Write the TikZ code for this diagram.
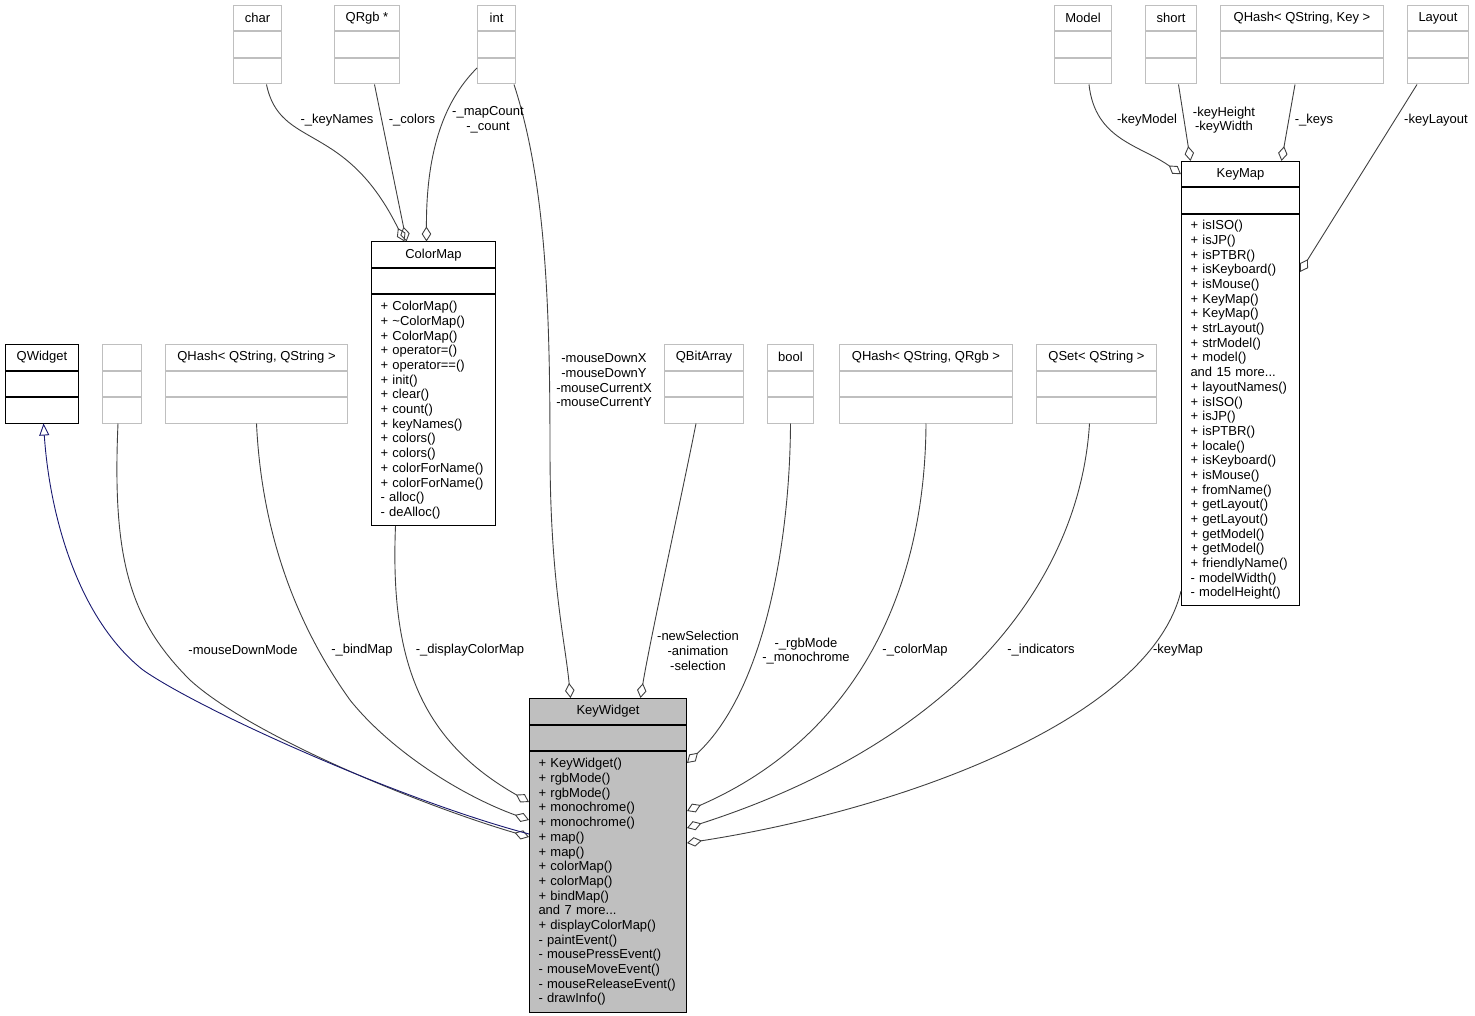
\documentclass[tikz,border=0pt]{standalone}
\usepackage{fontspec}
\setmainfont{Liberation Sans}
\usetikzlibrary{arrows.meta, positioning, calc}
\definecolor{lgray}{HTML}{BFBFBF}
\definecolor{egray}{HTML}{404040}
\definecolor{navy}{HTML}{191970}
\newcommand{\umlfont}{\fontsize{13}{14.68}\selectfont}
% type box: name, style, x, y, width, title
\newcommand{\typebox}[6]{%
  \node[#2, minimum width=#5pt, anchor=north west] (#1) at (#3,#4) {#6};
  \node[#2, minimum width=#5pt, below=0pt of #1] (#1-m) {};
  \node[#2, minimum width=#5pt, below=0pt of #1-m] (#1-b) {};}

\begin{document}
\begin{tikzpicture}[
  x=1pt, y=-1pt, font=\umlfont,
  tbox/.style = {draw=lgray, line width=1pt, minimum height=25.5pt, inner sep=0pt},
  cbox/.style = {tbox, draw=black},
  meth/.style = {draw=black, line width=1pt, align=left,
                 inner xsep=9pt, inner ysep=0pt},
  agg/.style  = {egray, line width=0.9pt,
                 -{Diamond[open, length=15pt, width=9.5pt]}},
  inh/.style  = {navy, line width=0.9pt,
                 {Triangle[open, length=12pt, width=10pt]}-},
  lab/.style  = {align=center, inner sep=0pt}
]
\useasboundingbox (0,0) rectangle (1475,1016);

% top row
\typebox{chr}{tbox}{233}{5}{48}{char}
\typebox{qrgb}{tbox}{334}{5}{65}{QRgb *}
\typebox{int}{tbox}{477}{5}{38}{int}
\typebox{model}{tbox}{1054}{5}{57}{Model}
\typebox{short}{tbox}{1145}{5}{51}{short}
\typebox{qhkey}{tbox}{1220}{5}{163}{QHash< QString, Key >}
\typebox{layout}{tbox}{1407}{5}{61}{Layout}

% middle row
\typebox{qw}{cbox}{5}{344}{73}{QWidget}
\typebox{anon}{tbox}{102}{344}{39}{}
\typebox{qhstr}{tbox}{165}{344}{182}{QHash< QString, QString >}
\typebox{qbits}{tbox}{664}{344}{79}{QBitArray}
\typebox{bool}{tbox}{767}{344}{46}{bool}
\typebox{qhrgb}{tbox}{839}{344}{173}{QHash< QString, QRgb >}
\typebox{qset}{tbox}{1036}{344}{120}{QSet< QString >}

% ColorMap
\node[cbox, minimum width=124pt, anchor=north west] (cmap) at (371,241.5) {ColorMap};
\node[cbox, minimum width=124pt, below=0pt of cmap] (cmap-m) {};
\node[meth, text width=106pt, minimum height=230.5pt, below=0pt of cmap-m] (cmap-b)
  {+ ColorMap()\\+ \textasciitilde ColorMap()\\+ ColorMap()\\+ operator=()\\
   + operator==()\\+ init()\\+ clear()\\+ count()\\+ keyNames()\\+ colors()\\
   + colors()\\+ colorForName()\\+ colorForName()\\- alloc()\\- deAlloc()};

% KeyMap
\node[cbox, minimum width=118pt, anchor=north west] (kmap) at (1181,161) {KeyMap};
\node[cbox, minimum width=118pt, below=0pt of kmap] (kmap-m) {};
\node[meth, text width=100pt, minimum height=391pt, below=0pt of kmap-m] (kmap-b)
  {+ isISO()\\+ isJP()\\+ isPTBR()\\+ isKeyboard()\\+ isMouse()\\+ KeyMap()\\
   + KeyMap()\\+ strLayout()\\+ strModel()\\+ model()\\and 15 more...\\
   + layoutNames()\\+ isISO()\\+ isJP()\\+ isPTBR()\\+ locale()\\+ isKeyboard()\\
   + isMouse()\\+ fromName()\\+ getLayout()\\+ getLayout()\\+ getModel()\\
   + getModel()\\+ friendlyName()\\- modelWidth()\\- modelHeight()};

% KeyWidget
\node[cbox, fill=lgray, minimum width=157pt, anchor=north west] (kw) at (529,698) {KeyWidget};
\node[cbox, fill=lgray, minimum width=157pt, below=0pt of kw] (kw-m) {};
\node[meth, fill=lgray, text width=139pt, minimum height=261pt, below=0pt of kw-m] (kw-b)
  {+ KeyWidget()\\+ rgbMode()\\+ rgbMode()\\+ monochrome()\\+ monochrome()\\
   + map()\\+ map()\\+ colorMap()\\+ colorMap()\\+ bindMap()\\and 7 more...\\
   + displayColorMap()\\- paintEvent()\\- mousePressEvent()\\- mouseMoveEvent()\\
   - mouseReleaseEvent()\\- drawInfo()};

% members of ColorMap
\draw[agg] ($(chr-b.south)+(9,0)$) .. controls (280,150) and (345,120) .. ($(cmap.north)+(-29,0)$);
\draw[agg] ($(qrgb-b.south)+(7.5,0)$) -- ($(cmap.north)+(-27,0)$);
\draw[agg] ($(int-m.south west)+(0,10)$) .. controls (450,95) and (426,140) .. ($(cmap.north)+(-7,0)$);

% members of KeyMap
\draw[agg] ($(model-b.south)+(6,0)$) .. controls (1095,140) and (1140,145) .. (kmap.west);
\draw[agg] ($(short-b.south)+(7.5,0)$) -- ($(kmap.north)+(-50,0)$);
\draw[agg] ($(qhkey-b.south)+(-7,0)$) -- ($(kmap.north)+(41,0)$);
\draw[agg] ($(layout-b.south)+(-21,0)$) -- ($(kmap-b.north east)+(0,58)$);

% members of KeyWidget
\draw[agg] ($(int-b.south east)+(-2,0)$) .. controls (545,180) and (550,300) .. (550,450)
  .. controls (550,580) and (565,640) .. ($(kw.north)+(-37.5,0)$);
\draw[agg] ($(qbits-b.south)+(-8,0)$) .. controls (685,480) and (650,640) .. ($(kw.north)+(32.5,0)$);
\draw[agg] (bool-b.south) .. controls (790,540) and (765,690) .. ($(kw-b.north east)+(0,12)$);
\draw[agg] (qhrgb-b.south) .. controls (925,600) and (850,740) .. ($(kw-b.north east)+(0,60)$);
\draw[agg] ($(qset-b.south)+(-7,0)$) .. controls (1080,580) and (960,740) .. ($(kw-b.north east)+(0,77)$);
\draw[agg] ($(kmap-b.south west)+(0,-15)$) .. controls (1150,720) and (900,810) .. ($(kw-b.north east)+(0,92)$);
\draw[agg] ($(cmap-b.south)+(-38,0)$) .. controls (390,660) and (420,740) .. ($(kw-b.north west)+(0,51)$);
\draw[agg] (qhstr-b.south) .. controls (262,540) and (300,630) .. (350,700)
  .. controls (390,750) and (460,795) .. ($(kw-b.north west)+(0,69)$);
\draw[agg] ($(anon-b.south)+(-4,0)$) .. controls (112,560) and (130,620) .. (190,680)
  .. controls (250,735) and (420,805) .. ($(kw-b.north west)+(0,86)$);
\draw[inh] ($(qw-b.south)+(1.5,0)$) .. controls (50,520) and (80,620) .. (143,670)
  .. controls (200,710) and (400,800) .. ($(kw-b.north west)+(0,83)$);

% labels
\node[lab] (l-kn)   at (337,120) {-\_keyNames};
\node[lab] (l-col)  at (412,120) {-\_colors};
\node[lab] (l-mc)   at (488,120) {-\_mapCount\\-\_count};
\node[lab] (l-mse)  at (604,380.5) {-mouseDownX\\-mouseDownY\\-mouseCurrentX\\-mouseCurrentY};
\node[lab] (l-km)   at (1147,120) {-keyModel};
\node[lab] (l-kh)   at (1224,120) {-keyHeight\\-keyWidth};
\node[lab] (l-keys) at (1314,120) {-\_keys};
\node[lab] (l-kl)   at (1436,120) {-keyLayout};
\node[lab] (l-mdm)  at (243,650) {-mouseDownMode};
\node[lab] (l-bm)   at (362,650) {-\_bindMap};
\node[lab] (l-dcm)  at (470,650) {-\_displayColorMap};
\node[lab] (l-sel)  at (698,651) {-newSelection\\-animation\\-selection};
\node[lab] (l-rgb)  at (806,651) {-\_rgbMode\\-\_monochrome};
\node[lab] (l-cm)   at (915,650) {-\_colorMap};
\node[lab] (l-ind)  at (1041,650) {-\_indicators};
\node[lab] (l-kmp)  at (1178,650) {-keyMap};
\end{tikzpicture}
\end{document}
